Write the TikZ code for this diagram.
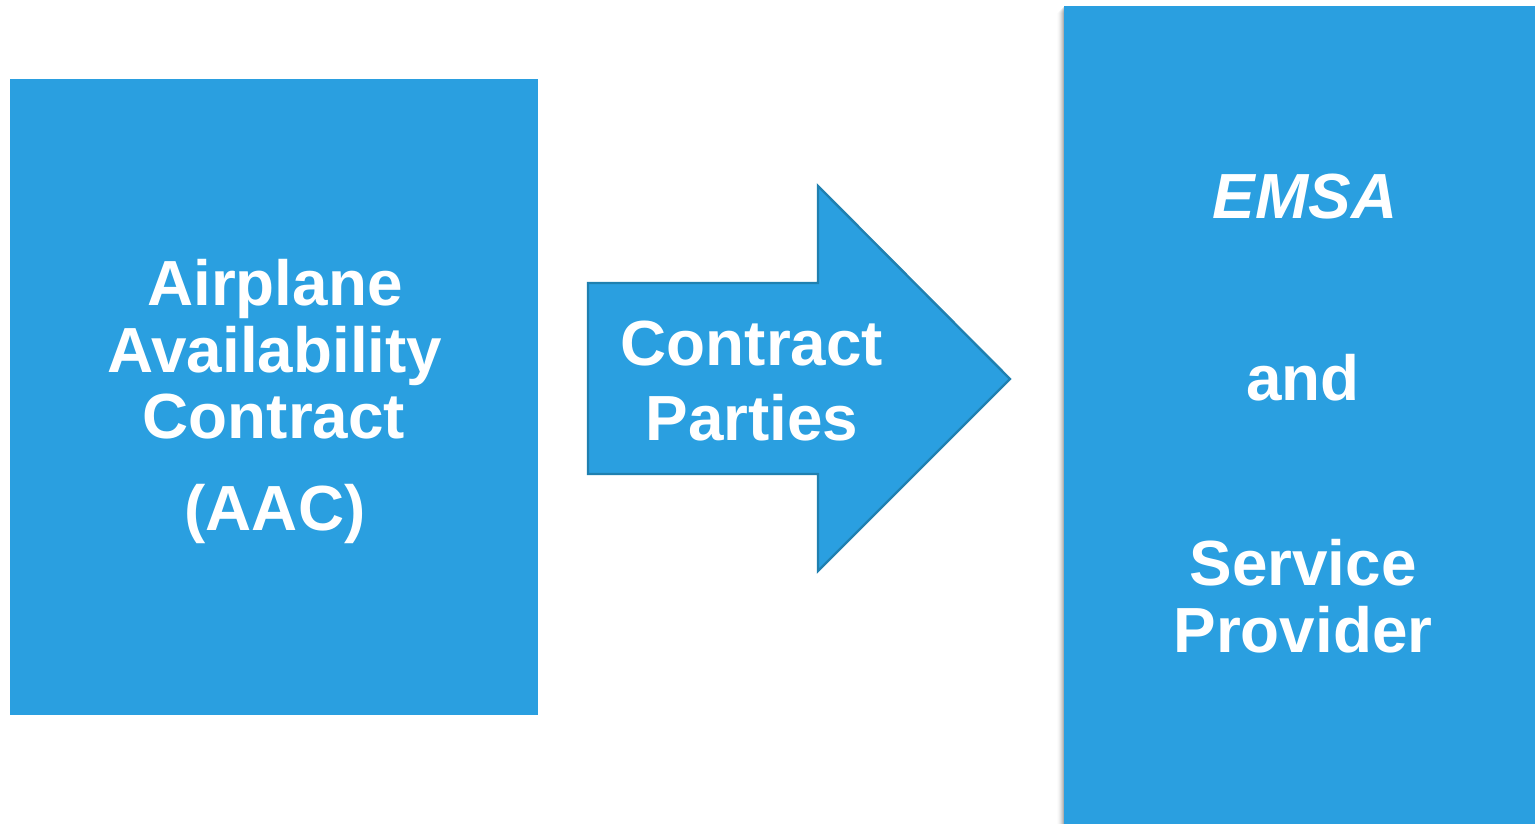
\documentclass[tikz,border=0pt]{standalone}
\usepackage{fontspec}
\setmainfont{Liberation Sans}
\definecolor{boxblue}{HTML}{2A9FE0}
\definecolor{edgeblue}{HTML}{1F80B0}
\begin{document}
\begin{tikzpicture}[x=0.5pt,y=-0.5pt,
  lbl/.style={text=white,font=\fontsize{31.9}{38}\selectfont\bfseries,anchor=base,inner sep=0pt},
  blk/.style={fill=boxblue,draw=none}]
\useasboundingbox (0,0) rectangle (1535,824);
\fill[white] (0,0) rectangle (1535,824);
% left box
\path[blk] (10,79) rectangle (538,715);
\node[minimum width=264pt,minimum height=318pt,inner sep=0pt] (aac) at (274,397) {};
\node[lbl] (l1) at (275,305) {Airplane};
\node[lbl] (l2) at (275,372) {Availability};
\node[lbl] (l3) at (274,438) {Contract};
\node[lbl] (l4) at (275,530) {(AAC)};
% arrow
\path[fill=boxblue,draw=edgeblue,line width=1.2pt,line join=miter]
  (588,283) -- (818,283) -- (818,186) -- (1010,379) -- (818,571) -- (818,474) -- (588,474) -- cycle;
\node[lbl] (c1) at (752,365) {Contract};
\node[lbl] (c2) at (752,440) {Parties};
% right box shadow
\foreach \i/\o in {1/0.10,2/0.08,3/0.06,4/0.045,5/0.03,6/0.02,7/0.012}{
  \fill[black,opacity=\o] (1064-\i,6+\i) rectangle (1064,824);
}
\path[blk] (1064,6) rectangle (1535,824);
\node[lbl] (r1) at (1305,218) {\itshape EMSA};
\node[lbl] (r2) at (1303,400) {and};
\node[lbl] (r3) at (1303,585) {Service};
\node[lbl] (r4) at (1303,652) {Provider};
\end{tikzpicture}
\end{document}
